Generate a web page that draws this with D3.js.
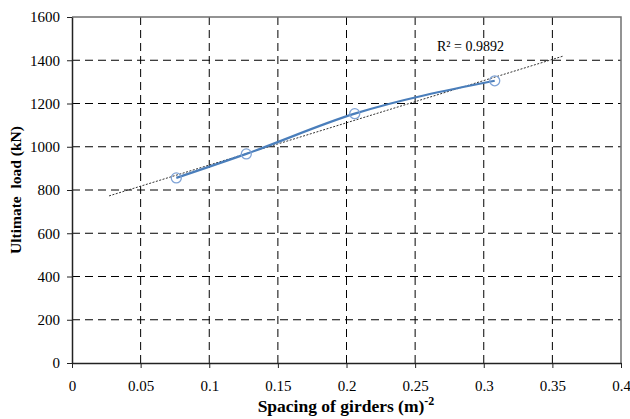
<!DOCTYPE html>
<html>
<head>
<meta charset="utf-8">
<script src="https://cdn.jsdelivr.net/npm/d3@7"></script>
<style>
  html, body { margin: 0; padding: 0; background: #fff; }
  svg { display: block; }
</style>
</head>
<body>
<svg id="chart" width="630" height="419"></svg>
<script>
// Girder spacing (m^-2) against ultimate load (kN)
const spacing = [0.076, 0.127, 0.206, 0.308];
const ultimateLoad = [856, 967, 1153, 1305];
const xTicks = [0, 0.05, 0.1, 0.15, 0.2, 0.25, 0.3, 0.35, 0.4];
const yTicks = [0, 200, 400, 600, 800, 1000, 1200, 1400, 1600];
const trendRange = [0.027, 0.358];
const rSquaredLabel = "R² = 0.9892";

const FONT = "Liberation Serif";
const svg = d3.select("#chart");
const margin = { left: 72, right: 9, top: 17, bottom: 56 };
const W = 630, H = 419;

const x = d3.scaleLinear().domain([0, 0.4]).range([margin.left, W - margin.right]);
const y = d3.scaleLinear().domain([0, 1600]).range([H - margin.bottom, margin.top]);

// dashed grid
svg.append("g").selectAll("line").data(xTicks.slice(1, -1)).join("line")
  .attr("x1", d => x(d)).attr("x2", d => x(d))
  .attr("y1", y(0)).attr("y2", y(1600))
  .attr("stroke", "#000").attr("stroke-width", 1).attr("stroke-dasharray", "8,5");
svg.append("g").selectAll("line").data(yTicks.slice(1, -1)).join("line")
  .attr("x1", x(0)).attr("x2", x(0.4))
  .attr("y1", d => y(d)).attr("y2", d => y(d))
  .attr("stroke", "#000").attr("stroke-width", 1).attr("stroke-dasharray", "8,5");

// plot frame top and right
svg.append("path")
  .attr("d", `M${x(0)},${y(1600)}H${x(0.4)}V${y(0)}`)
  .attr("fill", "none").attr("stroke", "#707070").attr("stroke-width", 1.5);

// axes
const fmtX = d => d === 0 ? "0" : String(+d.toFixed(2));
const xAxis = svg.append("g").attr("transform", `translate(0,${y(0)})`)
  .call(d3.axisBottom(x).tickValues(xTicks).tickFormat(fmtX).tickSize(5).tickSizeOuter(0));
const yAxis = svg.append("g").attr("transform", `translate(${x(0)},0)`)
  .call(d3.axisLeft(y).tickValues(yTicks).tickFormat(d3.format("d")).tickSize(5).tickSizeOuter(0));

[xAxis, yAxis].forEach(g => {
  g.attr("font-family", null);
  g.select(".domain").attr("stroke", "#222").attr("stroke-width", 1.5);
  g.selectAll(".tick line").attr("stroke", "#222");
  g.selectAll("text").style("font-family", FONT)
    .style("font-size", "15px").attr("fill", "#000");
});
xAxis.selectAll("text").attr("y", 17).attr("dy", "0.71em");
yAxis.selectAll("text").attr("x", -12);

// linear least-squares trendline
const n = spacing.length;
const mx = d3.mean(spacing), my = d3.mean(ultimateLoad);
let sxy = 0, sxx = 0;
for (let i = 0; i < n; i++) {
  sxy += (spacing[i] - mx) * (ultimateLoad[i] - my);
  sxx += (spacing[i] - mx) ** 2;
}
const slope = sxy / sxx, intercept = my - slope * mx;
svg.append("line")
  .attr("x1", x(trendRange[0])).attr("y1", y(intercept + slope * trendRange[0]))
  .attr("x2", x(trendRange[1])).attr("y2", y(intercept + slope * trendRange[1]))
  .attr("stroke", "#333").attr("stroke-width", 1).attr("stroke-dasharray", "2,1.5");

// smoothed data line
const pts = spacing.map((s, i) => [s, ultimateLoad[i]]);
svg.append("path").datum(pts)
  .attr("d", d3.line().x(d => x(d[0])).y(d => y(d[1])).curve(d3.curveMonotoneX))
  .attr("fill", "none").attr("stroke", "#4A7EBB").attr("stroke-width", 2.2);

// open circle markers
svg.append("g").selectAll("circle").data(pts).join("circle")
  .attr("cx", d => x(d[0])).attr("cy", d => y(d[1])).attr("r", 5)
  .attr("fill", "none").attr("stroke", "#7FA3D6").attr("stroke-width", 1.3);

// R² annotation on a white box
const rText = svg.append("text").attr("x", 437).attr("y", 51)
  .style("font-family", FONT).style("font-size", "14px").attr("fill", "#000").text(rSquaredLabel);
const bb = rText.node().getBBox();
svg.insert("rect", () => rText.node())
  .attr("x", bb.x - 1).attr("y", bb.y).attr("width", bb.width + 2).attr("height", bb.height)
  .attr("fill", "#fff");

// axis titles
const xt = svg.append("text").attr("x", 346).attr("y", 412)
  .attr("text-anchor", "middle").style("font-family", FONT)
  .style("font-size", "17.5px").style("font-weight", "bold");
xt.append("tspan").text("Spacing of girders (m)");
xt.append("tspan").attr("dy", -7).style("font-size", "12px").text("-2");

svg.append("text")
  .attr("transform", "translate(21,190) rotate(-90)")
  .attr("text-anchor", "middle").style("font-family", FONT)
  .style("font-size", "15.5px").style("font-weight", "bold")
  .style("white-space", "pre")
  .text("Ultimate  load (kN)");
</script>
</body>
</html>
